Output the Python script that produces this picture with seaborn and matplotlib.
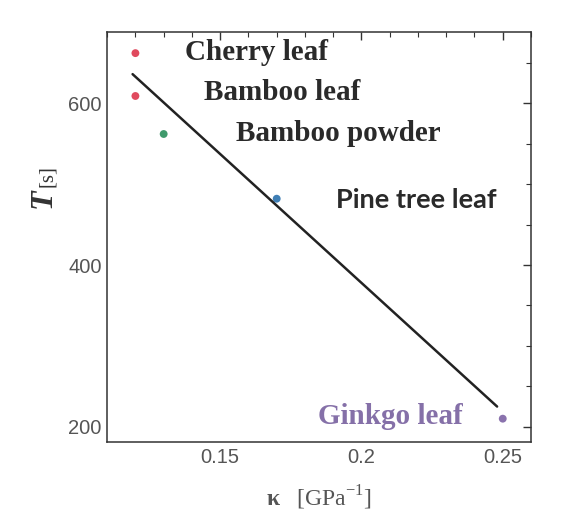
import matplotlib
matplotlib.use('Agg')
import matplotlib.pyplot as plt
import seaborn as sns
import pandas as pd
from matplotlib.ticker import MultipleLocator

# datos
nombres = ['Cherry leaf', 'Bamboo leaf', 'Bamboo powder', 'Pine tree leaf', 'Ginkgo leaf']
kappa = [0.120, 0.120, 0.130, 0.170, 0.250]
T = [662, 609, 562, 482, 210]
colores = ['#e04a5e', '#e04a5e', '#3f9a6c', '#3f7fb5', '#8a72ad']

# recta de ajuste (extremos)
fit_kappa = [0.119, 0.248]
fit_T = [636, 225]

# posiciones de las etiquetas
label_kappa = [0.1377, 0.1444, 0.1557, 0.1909, 0.1845]
label_T = [663, 613, 563, 481, 213]

df = pd.DataFrame({'nombre': nombres, 'kappa': kappa, 'T': T})
df_fit = pd.DataFrame({'kappa': fit_kappa, 'T': fit_T})

sns.set_style('white')
plt.rcParams['mathtext.fontset'] = 'custom'
plt.rcParams['mathtext.rm'] = 'Liberation Serif'
plt.rcParams['mathtext.bf'] = 'Liberation Serif:bold'
plt.rcParams['mathtext.bfit'] = 'Liberation Serif:bold:italic'

fig = plt.figure(figsize=(5.64, 5.22), dpi=100)
ax = fig.add_axes([0.19, 0.153, 0.7515, 0.7855])

sns.lineplot(x='kappa', y='T', data=df_fit, color='#222222', linewidth=1.8, ax=ax)
sns.scatterplot(x='kappa', y='T', data=df, hue='nombre', palette=colores,
                s=32, edgecolor='none', legend=False, ax=ax)

# etiquetas de texto
estilos = [
    dict(family='Liberation Serif', weight='bold', color='#2a2a2a', size=21),
    dict(family='Liberation Serif', weight='bold', color='#2a2a2a', size=21),
    dict(family='Liberation Serif', weight='bold', color='#2a2a2a', size=21),
    dict(family='Lato', weight='bold', color='#2a2a2a', size=19.5),
    dict(family='Liberation Serif', weight='bold', color='#8570a8', size=21),
]
for nx, ny, txt, st in zip(label_kappa, label_T, nombres, estilos):
    ax.text(nx, ny, txt, ha='left', va='center', **st)

ax.set_xlim(0.11, 0.26)
ax.set_ylim(181, 688)
ax.xaxis.set_major_locator(MultipleLocator(0.05))
ax.xaxis.set_minor_locator(MultipleLocator(0.01))
ax.yaxis.set_major_locator(MultipleLocator(200))
ax.yaxis.set_minor_locator(MultipleLocator(50))
ax.set_xticks([0.15, 0.2, 0.25])
ax.set_xticklabels(['0.15', '0.2', '0.25'])
ax.tick_params(which='both', direction='in', top=True, right=True,
               colors='#333333', labelcolor='#555555', labelsize=14.5)
ax.tick_params(which='major', length=6, width=1, pad=4)
ax.tick_params(which='minor', length=3.5, width=0.8)
for lab in ax.get_xticklabels() + ax.get_yticklabels():
    lab.set_family('Liberation Sans')
for sp in ax.spines.values():
    sp.set_color('#333333')
    sp.set_linewidth(1.1)

# etiquetas de ejes
ax.set_xlabel(r'$\mathbf{\kappa}$   [GPa$^{-1}$]', fontsize=17, color='#555555',
              family='Liberation Serif', labelpad=12)
ax.set_ylabel('')
fig.text(0.080, 1 - 200 / 522, r'$\mathbfit{T}$', fontsize=23, color='#333333',
         rotation=90, ha='center', va='center', family='Liberation Serif')
fig.text(0.085, 1 - 176 / 522, '[s]', fontsize=15, color='#333333',
         rotation=90, ha='center', va='center', family='Liberation Serif')

plt.savefig('out.png', dpi=100)
